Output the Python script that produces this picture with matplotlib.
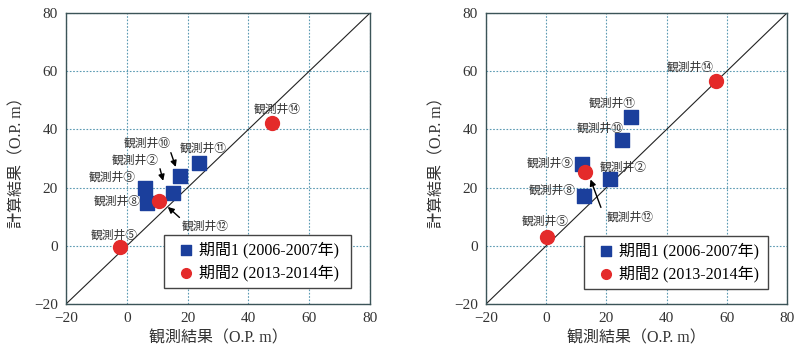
import matplotlib
matplotlib.use("Agg")
import matplotlib.pyplot as plt

plt.rcParams['font.family'] = ['Liberation Serif', 'Noto Sans CJK JP', 'DejaVu Sans']

JP = ['Noto Sans CJK JP', 'DejaVu Sans']
MIX = ['Liberation Serif', 'Noto Sans CJK JP', 'DejaVu Sans']

# ---- data: left panel ----
p1_left_names = ['観測井⑪', '観測井⑩', '観測井②', '観測井⑨', '観測井⑧']
p1_left_obs = [23.6, 17.5, 15.1, 6.1, 6.6]
p1_left_calc = [28.3, 24.1, 18.2, 19.7, 14.6]
p2_left_names = ['観測井⑭', '観測井⑫', '観測井⑤']
p2_left_obs = [47.9, 10.7, -2.1]
p2_left_calc = [42.1, 15.4, -0.3]

# ---- data: right panel ----
p1_right_names = ['観測井⑪', '観測井⑩', '観測井⑨', '観測井②', '観測井⑧']
p1_right_obs = [28.3, 25.2, 11.9, 21.2, 12.4]
p1_right_calc = [44.1, 36.3, 28.1, 22.9, 17.1]
p2_right_names = ['観測井⑭', '観測井⑫', '観測井⑤']
p2_right_obs = [56.4, 12.9, 0.2]
p2_right_calc = [56.8, 25.2, 3.0]

ticks = [-20, 0, 20, 40, 60, 80]
legend_labels = ['期間1 (2006-2007年)', '期間2 (2013-2014年)']
xlabel = '観測結果（O.P. m）'
ylabel = '計算結果（O.P. m）'

BLUE = '#1b3f9c'
RED = '#e42a2a'
GRID = '#5b9ab3'
FRAME = '#3c5458'

# label placements (text centre), optional arrow start/end
left_labels = {
    '観測井⑪': dict(xy=(25.2, 33.4)),
    '観測井⑩': dict(xy=(6.8, 35.4), arrow=((14.2, 32.9), (16.4, 26.2))),
    '観測井②': dict(xy=(2.6, 29.4), arrow=((10.7, 27.4), (12.2, 21.4))),
    '観測井⑨': dict(xy=(-4.8, 23.4)),
    '観測井⑧': dict(xy=(-3.3, 15.4)),
    '観測井⑫': dict(xy=(25.9, 6.9), arrow=((18.0, 9.1), (12.8, 14.0))),
    '観測井⑤': dict(xy=(-4.2, 3.7)),
    '観測井⑭': dict(xy=(49.4, 46.9)),
}
right_labels = {
    '観測井⑭': dict(xy=(47.7, 61.5)),
    '観測井⑪': dict(xy=(22.0, 49.1)),
    '観測井⑩': dict(xy=(18.0, 40.3)),
    '観測井⑨': dict(xy=(1.3, 28.3)),
    '観測井②': dict(xy=(25.7, 27.1)),
    '観測井⑧': dict(xy=(1.9, 19.1)),
    '観測井⑫': dict(xy=(28.0, 9.7), arrow=((18.5, 12.3), (14.4, 23.7))),
    '観測井⑤': dict(xy=(-0.3, 8.5)),
}

fig = plt.figure(figsize=(8.01, 3.57), dpi=100)
ax1 = fig.add_axes([66/801, 1-304/357, 304/801, 291/357])
ax2 = fig.add_axes([486/801, 1-304/357, 301/801, 291/357])


def draw(ax, o1, c1, o2, c2, labels, leg_box):
    ax.set_xlim(-20, 80)
    ax.set_ylim(-20, 80)
    ax.set_xticks(ticks)
    ax.set_yticks(ticks)
    ax.tick_params(length=0, labelsize=11, pad=6, labelcolor='#333333')
    for lab in ax.get_xticklabels() + ax.get_yticklabels():
        lab.set_family('Liberation Serif')
    ax.grid(True, color=GRID, linestyle=(0, (1.5, 1.5)), linewidth=0.8)
    for s in ax.spines.values():
        s.set_color(FRAME)
        s.set_linewidth(1.0)
    ax.plot([-20, 80], [-20, 80], color='#222222', linewidth=0.8, zorder=2)
    ax.scatter(o1, c1, marker='s', s=115, color=BLUE, zorder=4, label=legend_labels[0])
    ax.scatter(o2, c2, marker='o', s=100, color=RED, zorder=5, label=legend_labels[1])
    for name, d in labels.items():
        ax.text(d['xy'][0], d['xy'][1], name, ha='center', va='center',
                fontsize=8.5, color='#333333', family=JP, zorder=9)
        if 'arrow' in d:
            (sx, sy), (ex, ey) = d['arrow']
            ax.annotate('', xy=(ex, ey), xytext=(sx, sy),
                        arrowprops=dict(arrowstyle='-|>', color='black',
                                        lw=1.0, mutation_scale=9), zorder=9)
    ax.set_xlabel(xlabel, fontsize=11.5, family=MIX, color='#333333', labelpad=4)
    ax.set_ylabel(ylabel, fontsize=11.5, family=MIX, color='#333333', labelpad=6)
    leg = ax.legend(loc='lower left', bbox_to_anchor=leg_box, mode='expand',
                    borderaxespad=0.0,
                    fancybox=False, frameon=True, edgecolor='#444444',
                    framealpha=1.0,
                    prop={'family': MIX, 'size': 11.5}, handletextpad=-0.2,
                    handlelength=2.0, borderpad=0.4, labelspacing=0.4,
                    scatterpoints=1, markerscale=0.7)
    leg.get_frame().set_linewidth(1.0)
    leg.set_zorder(7)


draw(ax1, p1_left_obs, p1_left_calc, p2_left_obs, p2_left_calc,
     left_labels, (0.322, 0.055, 0.615, 0.172))
draw(ax2, p1_right_obs, p1_right_calc, p2_right_obs, p2_right_calc,
     right_labels, (0.326, 0.052, 0.611, 0.178))

fig.savefig('out.png', dpi=100)
